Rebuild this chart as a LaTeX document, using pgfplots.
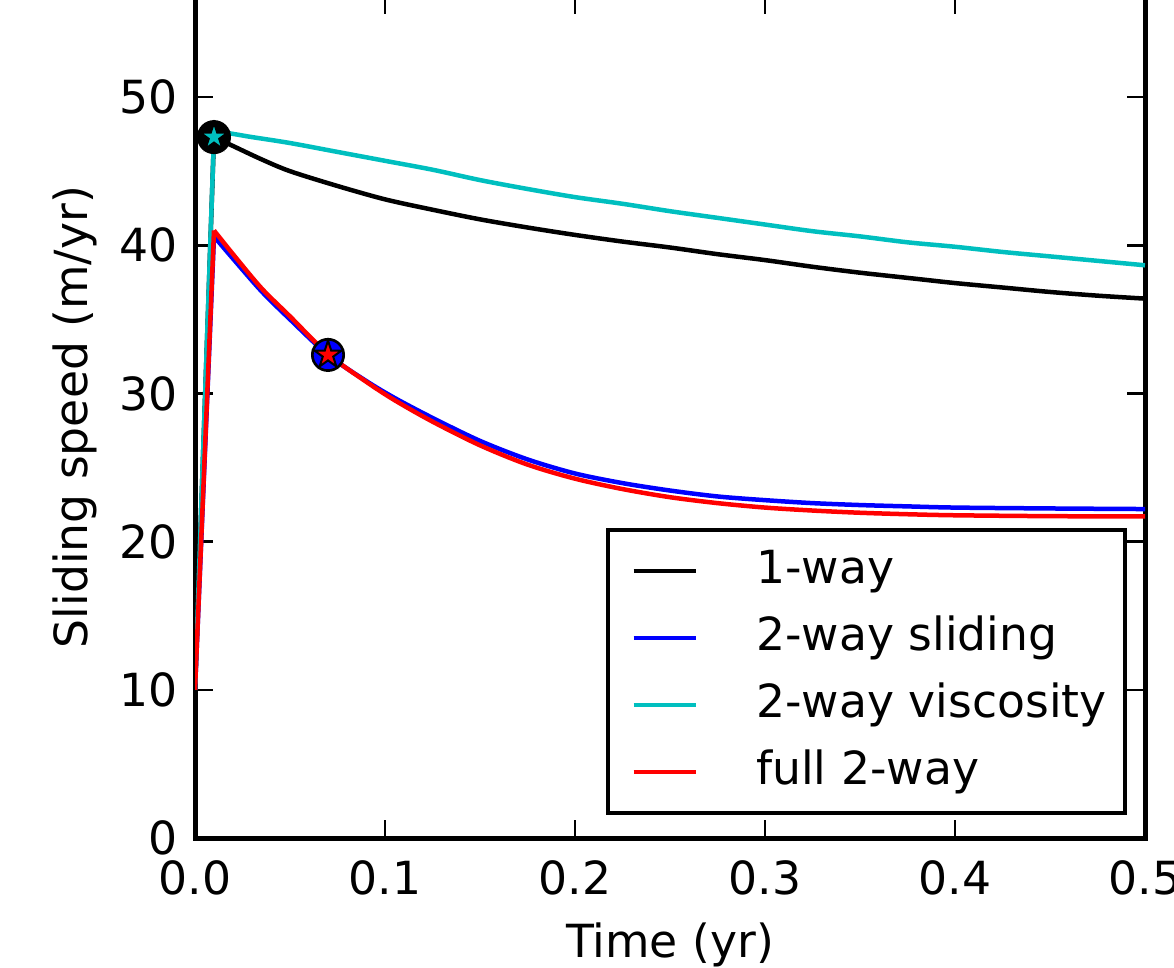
\documentclass[border=0pt]{standalone}
\usepackage{pgfplots}
\pgfplotsset{compat=1.18}
\usepackage{fontspec}
\setmainfont{DejaVu Sans}
\definecolor{mcyan}{RGB}{0,191,191}
\definecolor{mblue}{RGB}{0,0,255}
\definecolor{mred}{RGB}{255,0,0}
\pgfdeclareplotmark{fstar}{%
  \pgfpathmoveto{\pgfpointpolar{90}{\pgfplotmarksize}}%
  \pgfpathlineto{\pgfpointpolar{126}{0.382\pgfplotmarksize}}%
  \pgfpathlineto{\pgfpointpolar{162}{\pgfplotmarksize}}%
  \pgfpathlineto{\pgfpointpolar{198}{0.382\pgfplotmarksize}}%
  \pgfpathlineto{\pgfpointpolar{234}{\pgfplotmarksize}}%
  \pgfpathlineto{\pgfpointpolar{270}{0.382\pgfplotmarksize}}%
  \pgfpathlineto{\pgfpointpolar{306}{\pgfplotmarksize}}%
  \pgfpathlineto{\pgfpointpolar{342}{0.382\pgfplotmarksize}}%
  \pgfpathlineto{\pgfpointpolar{18}{\pgfplotmarksize}}%
  \pgfpathlineto{\pgfpointpolar{54}{0.382\pgfplotmarksize}}%
  \pgfpathclose
  \pgfusepathqfillstroke
}
\pgfplotstableread{
t v
0.01 47.3
0.02 46.7
0.035 45.8
0.05 45.0
0.075 44.0
0.1 43.1
0.125 42.4
0.15 41.75
0.175 41.2
0.2 40.7
0.225 40.25
0.25 39.85
0.275 39.4
0.3 39.0
0.325 38.55
0.35 38.15
0.375 37.8
0.4 37.45
0.425 37.15
0.45 36.85
0.475 36.6
0.5 36.4
}\oneway
\pgfplotstableread{
t v
0.01 40.6
0.02 39.1
0.035 36.9
0.05 35.0
0.07 32.6
0.09 30.85
0.105 29.7
0.125 28.35
0.15 26.8
0.175 25.55
0.2 24.6
0.225 23.95
0.25 23.45
0.275 23.05
0.3 22.8
0.325 22.6
0.35 22.47
0.375 22.38
0.4 22.3
0.45 22.24
0.5 22.2
}\twosliding
\pgfplotstableread{
t v
0.01 47.4
0.015 47.6
0.03 47.3
0.05 46.9
0.075 46.3
0.1 45.7
0.125 45.1
0.15 44.4
0.175 43.8
0.2 43.25
0.225 42.8
0.25 42.3
0.275 41.85
0.3 41.4
0.325 40.95
0.35 40.6
0.375 40.2
0.4 39.9
0.425 39.55
0.45 39.25
0.475 38.95
0.5 38.65
}\twovisc
\pgfplotstableread{
t v
0.01 41.0
0.02 39.4
0.035 37.1
0.05 35.2
0.07 32.65
0.09 30.8
0.105 29.55
0.125 28.1
0.15 26.5
0.175 25.2
0.2 24.25
0.225 23.55
0.25 23.0
0.275 22.6
0.3 22.3
0.325 22.1
0.35 21.95
0.375 21.85
0.4 21.78
0.45 21.72
0.5 21.7
}\fulltwo
\begin{document}
\fontsize{13.7}{16}\selectfont
\begin{tikzpicture}
\begin{axis}[
  at={(0,0)}, anchor=south west, scale only axis,
  width=285pt, height=252.5pt,
  xmin=0, xmax=0.5, ymin=0, ymax=56.8,
  xtick={0,0.1,0.2,0.3,0.4,0.5}, ytick={0,10,20,30,40,50},
  x tick label style={/pgf/number format/.cd, fixed, fixed zerofill, precision=1, /tikz/.cd, yshift=-2pt},
  y tick label style={xshift=-0.5pt},
  /pgf/number format/assume math mode=true,
  tick align=inside, major tick length=5.4pt,
  every tick/.style={black, line width=0.8pt},
  axis line style={line width=1.5pt},
  xlabel={Time (yr)}, ylabel={Sliding speed (m/yr)},
  xlabel style={at={(axis description cs:0.5,0)}, anchor=center, yshift=-32pt},
  ylabel style={at={(axis description cs:-0.1263,0.5)}, anchor=center},
  legend cell align=left,
  legend image code/.code={\path (0pt,0pt); \draw[#1] (1.5pt,0pt) -- (20.1pt,0pt);},
  legend style={at={(0.981,0.0273)}, anchor=south east, draw=black, line width=1.2pt,
    inner xsep=5.5pt, inner ysep=5.5pt, row sep=6.6pt,
    nodes={inner sep=0pt, text height=10.5pt, text depth=3pt},
    /tikz/every odd column/.append style={column sep=17.5pt}},
]
\addplot[black, line width=1.35pt, forget plot] coordinates {(0,10) (0.01,47.3)};
\addplot[black, line width=1.35pt, smooth, tension=0.5] table[x=t,y=v] {\oneway};
\addlegendentry{1-way}
\addplot[only marks, mark=*, mark size=4.7pt, mark options={fill=black, draw=black, line width=0.8pt}, forget plot] coordinates {(0.01,47.3)};
\addplot[mblue, line width=1.35pt, forget plot] coordinates {(0,10) (0.01,40.6)};
\addplot[mblue, line width=1.35pt, smooth, tension=0.5] table[x=t,y=v] {\twosliding};
\addlegendentry{2-way sliding}
\addplot[only marks, mark=*, mark size=4.7pt, mark options={fill=mblue, draw=black, line width=0.8pt}, forget plot] coordinates {(0.07,32.6)};
\addplot[mcyan, line width=1.35pt, forget plot] coordinates {(0,10) (0.01,47.4)};
\addplot[mcyan, line width=1.35pt, smooth, tension=0.5] table[x=t,y=v] {\twovisc};
\addlegendentry{2-way viscosity}
\addplot[only marks, mark=fstar, mark size=4.3pt, mark options={fill=mcyan, draw=black, line width=0.6pt}, forget plot] coordinates {(0.01,47.3)};
\addplot[mred, line width=1.35pt, forget plot] coordinates {(0,10) (0.01,41.0)};
\addplot[mred, line width=1.35pt, smooth, tension=0.5] table[x=t,y=v] {\fulltwo};
\addlegendentry{full 2-way}
\addplot[only marks, mark=fstar, mark size=4.3pt, mark options={fill=mred, draw=black, line width=0.6pt}, forget plot] coordinates {(0.07,32.6)};
\end{axis}
\pgfresetboundingbox
\path[use as bounding box] (-58.5pt,-38.7pt) rectangle (293.7pt,251.4pt);
\end{tikzpicture}
\end{document}
